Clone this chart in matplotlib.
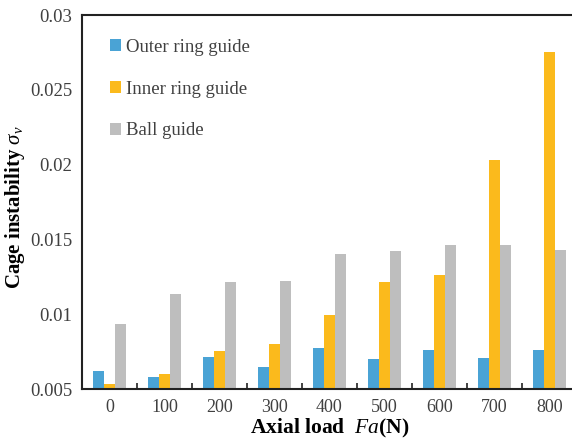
import numpy as np
import matplotlib
matplotlib.use('Agg')
import matplotlib.pyplot as plt

# Axial load categories
loads = ['0', '100', '200', '300', '400', '500', '600', '700', '800']

# Cage instability values
outer_ring = [0.00623, 0.00580, 0.00714, 0.00647, 0.00774, 0.00700, 0.00761, 0.00709, 0.00761]
inner_ring = [0.00536, 0.00600, 0.00754, 0.00801, 0.00992, 0.01217, 0.01260, 0.02031, 0.02750]
ball_guide = [0.00935, 0.01133, 0.01217, 0.01224, 0.01402, 0.01425, 0.01463, 0.01463, 0.01429]

plt.rcParams['font.family'] = ['Liberation Serif', 'DejaVu Serif']
plt.rcParams['mathtext.fontset'] = 'custom'
plt.rcParams['mathtext.rm'] = 'Liberation Serif'
plt.rcParams['mathtext.it'] = 'Liberation Serif:italic'
plt.rcParams['mathtext.bf'] = 'Liberation Serif:bold'

fig = plt.figure(figsize=(5.72, 4.42), dpi=100)
ax = fig.add_axes([82/572, 53/442, 495/572, 374/442])

x = np.arange(len(loads))
w = 0.2
ax.bar(x - w, outer_ring, w, color='#4AA3D5', label='Outer ring guide', zorder=2)
ax.bar(x, inner_ring, w, color='#FBBA1C', label='Inner ring guide', zorder=2)
ax.bar(x + w, ball_guide, w, color='#BEBEBE', label='Ball guide', zorder=2)

ax.set_ylim(0.005, 0.03)
ax.set_yticks([0.005, 0.01, 0.015, 0.02, 0.025, 0.03])
ax.set_yticklabels(['0.005', '0.01', '0.015', '0.02', '0.025', '0.03'])
ax.set_xlim(-0.5, len(loads) - 0.5)

# category labels centred, tick marks between categories
ax.set_xticks(x)
ax.set_xticklabels(loads)
ax.set_xticks(np.arange(0.5, len(loads) - 0.5, 1), minor=True)
ax.tick_params(axis='x', which='major', length=0, pad=7, labelsize=13, labelcolor='#404040')
ax.tick_params(axis='x', which='minor', direction='in', length=4, width=1.2, color='#222222')
ax.tick_params(axis='y', length=0, pad=7, labelsize=13.5, labelcolor='#404040')

for side in ['left', 'bottom', 'top', 'right']:
    ax.spines[side].set_linewidth(1.5)
    ax.spines[side].set_color('#222222')

ax.set_ylabel(r'Cage instability $\sigma_v$', fontsize=15, fontweight='bold')
ax.yaxis.set_label_coords(-0.111, 0.487)
ax.set_xlabel(r'Axial load  $Fa$(N)', fontsize=15.5, fontweight='bold', labelpad=1)

leg = ax.legend(loc='upper left', bbox_to_anchor=(0.033, 0.966), frameon=False,
                fontsize=13.5, handlelength=0.6, handleheight=0.6, handletextpad=0.25,
                labelspacing=1.32, borderaxespad=0.2)
for t in leg.get_texts():
    t.set_color('#404040')

plt.savefig('out.png', dpi=100)
